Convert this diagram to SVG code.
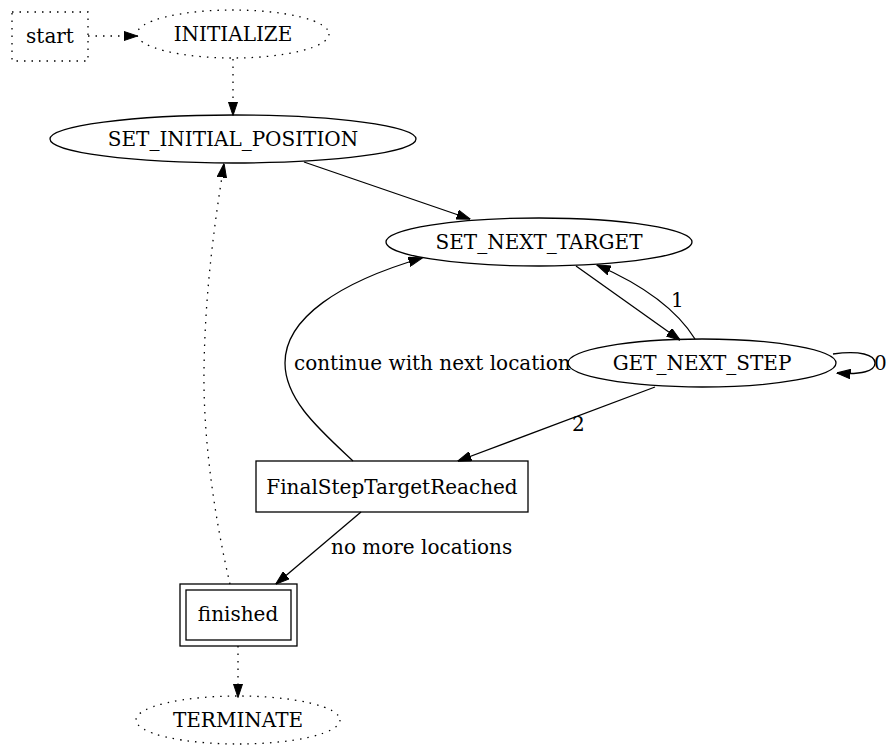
<svg xmlns="http://www.w3.org/2000/svg" width="888" height="747" viewBox="0 0 888 747">
<style>
text{font-family:"DejaVu Serif","Liberation Serif",serif;font-size:20px;fill:#000}
.n{text-anchor:middle}
.s{fill:none;stroke:#000;stroke-width:1.3}
.d{stroke-dasharray:1.5 6}
.e{fill:none;stroke:#000;stroke-width:1.3}
</style>
<defs>
<marker id="a" viewBox="0 0 14 10" refX="13.5" refY="5" markerWidth="14" markerHeight="10" markerUnits="userSpaceOnUse" orient="auto">
<path d="M0,0.3 L14,5 L0,9.7 z" fill="#000" stroke="#000" stroke-width="1"/>
</marker>
</defs>
<rect width="888" height="747" fill="#fff"/>
<g id="connectors">
<path class="e d" d="M88,36 L137,36" marker-end="url(#a)"/>
<path class="e d" d="M233,59 L233,115" marker-end="url(#a)"/>
<path class="e" d="M304,162 L470,219" marker-end="url(#a)"/>
<path class="e" d="M576,266 L680,340" marker-end="url(#a)"/>
<path class="e" d="M695,339 C680,315 650,288 597,265" marker-end="url(#a)"/>
<text x="671" y="307">1</text>
<path class="e" d="M833,354 C860,350 875,355 875,363 C875,371 862,375 837,373" marker-end="url(#a)"/>
<text x="874" y="370">0</text>
<path class="e" d="M655,387 L458,461" marker-end="url(#a)"/>
<text x="572" y="431">2</text>
<path class="e" d="M353,461 C320,430 285,400 285,363 C285,318 340,282 422,258" marker-end="url(#a)"/>
<text x="294" y="370">continue with next location</text>
<path class="e" d="M361,512 L276,584" marker-end="url(#a)"/>
<text x="331" y="554">no more locations</text>
<path class="e d" d="M230,584 C215,520 203,440 204,370 C205,290 215,220 224,164" marker-end="url(#a)"/>
<path class="e d" d="M238,646 L238,697" marker-end="url(#a)"/>
</g>
<g id="start">
<rect class="s d" x="12" y="12" width="76" height="49"/>
<text class="n" x="50" y="43">start</text>
</g>
<g id="INITIALIZE">
<ellipse class="s d" cx="233" cy="34" rx="96" ry="24"/>
<text class="n" x="233" y="41">INITIALIZE</text>
</g>
<g id="SET_INITIAL_POSITION">
<ellipse class="s" cx="233" cy="139" rx="183" ry="24"/>
<text class="n" x="233" y="146">SET_INITIAL_POSITION</text>
</g>
<g id="SET_NEXT_TARGET">
<ellipse class="s" cx="539" cy="242" rx="153" ry="24"/>
<text class="n" x="539" y="249">SET_NEXT_TARGET</text>
</g>
<g id="GET_NEXT_STEP">
<ellipse class="s" cx="702" cy="363" rx="134" ry="24"/>
<text class="n" x="702" y="370">GET_NEXT_STEP</text>
</g>
<g id="FinalStepTargetReached">
<rect class="s" x="256" y="461" width="272" height="51"/>
<text class="n" x="392" y="494">FinalStepTargetReached</text>
</g>
<g id="finished">
<rect class="s" x="180" y="584" width="117" height="62"/>
<rect class="s" x="186" y="590" width="105" height="50"/>
<text class="n" x="238" y="621">finished</text>
</g>
<g id="TERMINATE">
<ellipse class="s d" cx="238" cy="720" rx="102" ry="24"/>
<text class="n" x="238" y="727">TERMINATE</text>
</g>
</svg>
